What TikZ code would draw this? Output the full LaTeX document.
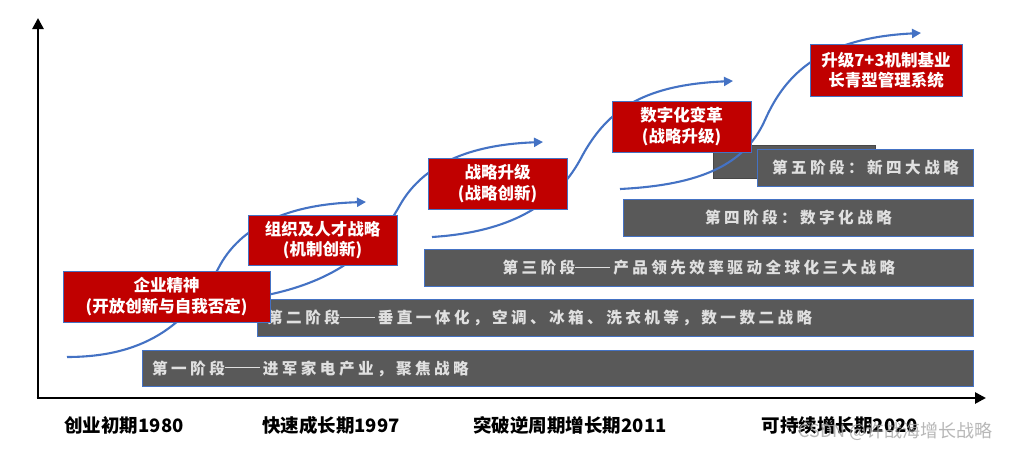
\documentclass[tikz,border=0pt]{standalone}
\usepackage{fontspec}
\setmainfont{Noto Sans CJK SC}
\newfontfamily\bartextfont[LetterSpace=22]{Noto Sans CJK SC}
\usetikzlibrary{arrows.meta}
\definecolor{barfill}{HTML}{595959}
\definecolor{edgeblue}{HTML}{4472C4}
\definecolor{boxred}{HTML}{C00000}
\definecolor{curveblue}{HTML}{4472C4}
\newcommand{\bardash}{\raisebox{0.36em}{\rule{35pt}{1.4pt}}\hspace{3pt}}
\begin{document}
\begin{tikzpicture}[x=1pt,y=-1pt,
  bar/.style={draw=edgeblue, line width=0.9pt, fill=barfill, inner sep=0pt, anchor=north west},
  bartext/.style={text=white!88!black, font=\bartextfont\bfseries\fontsize{15.6}{18}\selectfont, inner sep=0pt},
  redbox/.style={draw=edgeblue, line width=1pt, fill=boxred, text=white, align=center, inner sep=0pt,
    font=\bfseries\fontsize{16.5}{20.5}\selectfont},
  curve/.style={draw=curveblue, line width=2.1pt, -{Triangle[length=9pt,width=9pt]}},
  axis/.style={draw=black, line width=2.6pt, -{Triangle[length=11pt,width=11pt]}},
  era/.style={font=\bfseries\fontsize{18.5}{20}\selectfont, inner sep=0pt},
]
\fill[white] (0,0) rectangle (1010,450);

% axes
\coordinate (origin) at (38,398);
\coordinate (ytop) at (38,18);
\coordinate (xend) at (986,398);
\draw[axis] (origin) -- (ytop);
\draw[axis] ([xshift=-1.3pt]origin) -- (xend);

% stage bars
\node[bar, minimum width=831pt, minimum height=36pt] (s1) at (142,350) {};
\node[bar, minimum width=716pt, minimum height=37pt] (s2) at (257,299) {};
\node[bar, minimum width=549pt, minimum height=37pt] (s3) at (424,249) {};
\node[bar, minimum width=350pt, minimum height=37pt] (s4) at (623,199) {};
\node[draw=barfill!80!black, line width=0.6pt, fill=barfill, inner sep=0pt, anchor=north west,
      minimum width=162pt, minimum height=33pt] (s5back) at (713,145) {};
\node[bar, minimum width=216pt, minimum height=37pt] (s5) at (757,149) {};

\node[bartext, anchor=west] (t1) at ([xshift=10pt]s1.west) {第一阶段\bardash 进军家电产业，聚焦战略};
\node[bartext, anchor=west] (t2) at ([xshift=10pt]s2.west) {第二阶段\bardash 垂直一体化，空调、冰箱、洗衣机等，数一数二战略};
\node[bartext] (t3) at (s3.center) {第三阶段\bardash 产品领先效率驱动全球化三大战略};
\node[bartext] (t4) at (s4.center) {第四阶段：数字化战略};
\node[bartext] (t5) at (s5.center) {第五阶段：新四大战略};

% growth curves
\coordinate (c1s) at (67,357);
\coordinate (c1e) at (366,202);
\coordinate (c2s) at (262,296);
\coordinate (c2e) at (543,142);
\coordinate (c3s) at (432,237);
\coordinate (c3e) at (733,81);
\coordinate (c4s) at (620,189);
\coordinate (c4e) at (921,33);
\draw[curve] (c1s) .. controls (150,357) and (190,320) .. (218,269)
                   .. controls (240,225) and (290,204) .. (c1e);
\draw[curve] (c2s) .. controls (320,285) and (370,260) .. (400,205)
                   .. controls (420,170) and (460,145) .. (c2e);
\draw[curve] (c3s) .. controls (510,232) and (555,205) .. (580,160)
                   .. controls (605,112) and (640,85) .. (c3e);
\draw[curve] (c4s) .. controls (700,185) and (745,165) .. (765,120)
                   .. controls (785,75) and (820,38) .. (c4e);

% red boxes
\node[redbox, minimum width=207pt, minimum height=51pt] (r1) at (166.5,296.5) {企业精神\\(开放创新与自我否定)};
\node[redbox, minimum width=149pt, minimum height=50pt] (r2) at (322.5,240) {组织及人才战略\\(机制创新)};
\node[redbox, minimum width=139pt, minimum height=51pt] (r3) at (497.5,183.5) {战略升级\\(战略创新)};
\node[redbox, minimum width=139pt, minimum height=51pt] (r4) at (681.5,126.5) {数字化变革\\(战略升级)};
\node[redbox, minimum width=152pt, minimum height=52pt] (r5) at (886,70) {升级7+3机制基业\\长青型管理系统};

% era labels
\node[era] (e1) at (124,425) {创业初期1980};
\node[era] (e2) at (331,425) {快速成长期1997};
\node[era] (e3) at (570,425) {突破逆周期增长期2011};
\node[era] (e4) at (840,425) {可持续增长期2020};

% watermark
\node[text=gray!70, opacity=0.8, font=\fontsize{18}{20}\selectfont, inner sep=0pt, anchor=east] (wm) at (993,431) {CSDN @许战海增长战略};
\end{tikzpicture}
\end{document}
